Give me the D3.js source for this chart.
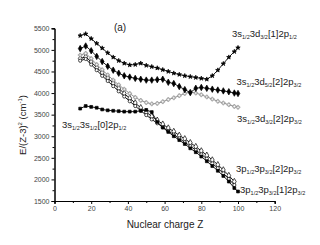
<!DOCTYPE html>
<html><head><meta charset="utf-8">
<script src="https://cdn.jsdelivr.net/npm/d3@7"></script>
<style>body{margin:0;background:#fff}svg{display:block}text{font-family:"Liberation Sans",Arial,sans-serif}</style>
</head><body><svg id="c" width="320" height="245"></svg>
<script>
const Z = [14,17,20,23,26,29,32,35,38,41,44,47,50,53,56,59,62,65,68,71,74,77,80,83,86,89,92,95,98];
const zA = Z.concat([100]);
const serA = [5330,5370,5260,5150,5040,4930,4830,4750,4690,4650,4660,4690,4640,4610,4580,4540,4500,4460,4430,4400,4380,4360,4340,4320,4400,4530,4680,4830,4960,5050];
const serB = [5030,5090,4980,4850,4730,4620,4530,4460,4400,4370,4340,4320,4300,4300,4310,4320,4250,4220,4150,4080,4010,4110,4130,4110,4090,4070,4050,4030,4000,3990];
const serC = [4880,4920,4800,4660,4540,4420,4300,4190,4090,3990,3900,3830,3780,3750,3760,3800,3850,3890,3940,3990,4030,4000,3960,3910,3860,3810,3770,3730,3690,3670];
const serD = [4800,4840,4720,4590,4470,4350,4230,4110,3990,3880,3770,3660,3560,3460,3370,3280,3190,3110,3020,2940,2850,2760,2660,2560,2450,2340,2220,2090,1950];
const serE = [4750,4790,4660,4530,4400,4280,4160,4040,3920,3810,3700,3590,3490,3390,3300,3210,3120,3040,2950,2860,2770,2680,2580,2480,2370,2260,2140,2010,1870];
const serS = [3640,3700,3680,3660,3620,3600,3590,3580,3570,3570,3570,3590,3610,3560,3330,3200,3100,3000,2910,2820,2720,2630,2530,2420,2310,2200,2080,1950,1800,1720];
const xTicks = [0,20,40,60,80,100,120];
const yTicks = [1500,2000,2500,3000,3500,4000,4500,5000,5500];

const svg = d3.select("#c");
const x = d3.scaleLinear().domain([0,120]).range([54.5,274.7]);
const y = d3.scaleLinear().domain([1500,5500]).range([201,28.3]);

svg.append("g").attr("transform","translate(0,201)")
  .call(d3.axisBottom(x).tickValues(xTicks).tickSize(3).tickPadding(2));
svg.append("g").attr("transform","translate(0,201)")
  .call(d3.axisBottom(x).tickValues(d3.range(10,120,20)).tickSize(2).tickFormat(""));
svg.append("g").attr("transform","translate(54.5,0)")
  .call(d3.axisLeft(y).tickValues(yTicks).tickSize(3).tickPadding(2).tickFormat(d3.format("d")));
svg.append("g").attr("transform","translate(54.5,0)")
  .call(d3.axisLeft(y).tickValues(d3.range(1750,5500,500)).tickSize(2).tickFormat(""));
svg.selectAll(".domain").attr("stroke","#000").attr("stroke-width",1);
svg.selectAll(".tick line").attr("stroke","#000");
svg.selectAll(".tick text").attr("font-size",7).attr("fill","#444").attr("font-family","Liberation Sans, Arial, sans-serif");

const line = d3.line().x(d=>x(d[0])).y(d=>y(d[1]));
function draw(zs, vals, sym, size, fill, stroke, lineColor){
  const pts = vals.map((v,i)=>[zs[i],v]);
  svg.append("path").datum(pts).attr("d",line).attr("fill","none").attr("stroke",lineColor).attr("stroke-width",0.9);
  svg.append("g").selectAll("path").data(pts).join("path")
    .attr("transform",d=>`translate(${x(d[0])},${y(d[1])})`)
    .attr("d",d3.symbol().type(sym).size(size))
    .attr("fill",fill).attr("stroke",stroke).attr("stroke-width",0.7);
}
draw(Z, serD, d3.symbolDiamond, 12, "#fff", "#000", "#000");
draw(Z, serE, d3.symbolCircle, 8, "#fff", "#000", "#000");
draw(zA, serS, d3.symbolSquare, 8, "#000", "#000", "#000");
draw(zA, serC, d3.symbolCross, 8, "#fff", "#888", "#888");
draw(zA, serB, d3.symbolDiamond, 12, "#000", "#000", "#000");
draw(zA, serA, d3.symbolStar, 6, "#000", "#000", "#000");

function label(px, py, parts){
  const t = svg.append("text").attr("x",px).attr("y",py).attr("font-size",9.5).attr("fill","#222");
  parts.forEach(p=>{
    if(p[1]) t.append("tspan").attr("font-size",5.5).attr("dy",2).text(p[0]);
    else t.append("tspan").attr("dy",p[2]||0).text(p[0]);
  });
}
function cfg(a,sa,b,sb,c,sc){return [[a],[sa,1],[b,0,-2],[sb,1],[c,0,-2],[sc,1]];}
label(232,37,cfg("3s","1/2","3d","3/2","[1]2p","1/2"));
label(236.5,85,cfg("3s","1/2","3d","5/2","[2]2p","3/2"));
label(237,122,cfg("3s","1/2","3d","3/2","[2]2p","3/2"));
label(236,172,cfg("3p","1/2","3p","3/2","[2]2p","3/2"));
label(240,193,cfg("3p","1/2","3p","3/2","[1]2p","3/2"));
label(62,128,cfg("3s","1/2","3s","1/2","[0]2p","1/2"));
svg.append("text").attr("x",120).attr("y",31).attr("text-anchor","middle").attr("font-size",10).attr("fill","#222").text("(a)");

svg.append("text").attr("x",165).attr("y",228).attr("text-anchor","middle").attr("font-size",10).attr("fill","#222").text("Nuclear charge Z");
const yt = svg.append("text").attr("transform","translate(26,125) rotate(-90)").attr("text-anchor","middle").attr("font-size",9.5).attr("fill","#222");
yt.append("tspan").text("E/(Z-3)");
yt.append("tspan").attr("font-size",6).attr("dy",-4).text("2");
yt.append("tspan").attr("dy",4).text(" (cm");
yt.append("tspan").attr("font-size",6).attr("dy",-4).text("-1");
yt.append("tspan").attr("dy",4).text(")");
</script></body></html>
